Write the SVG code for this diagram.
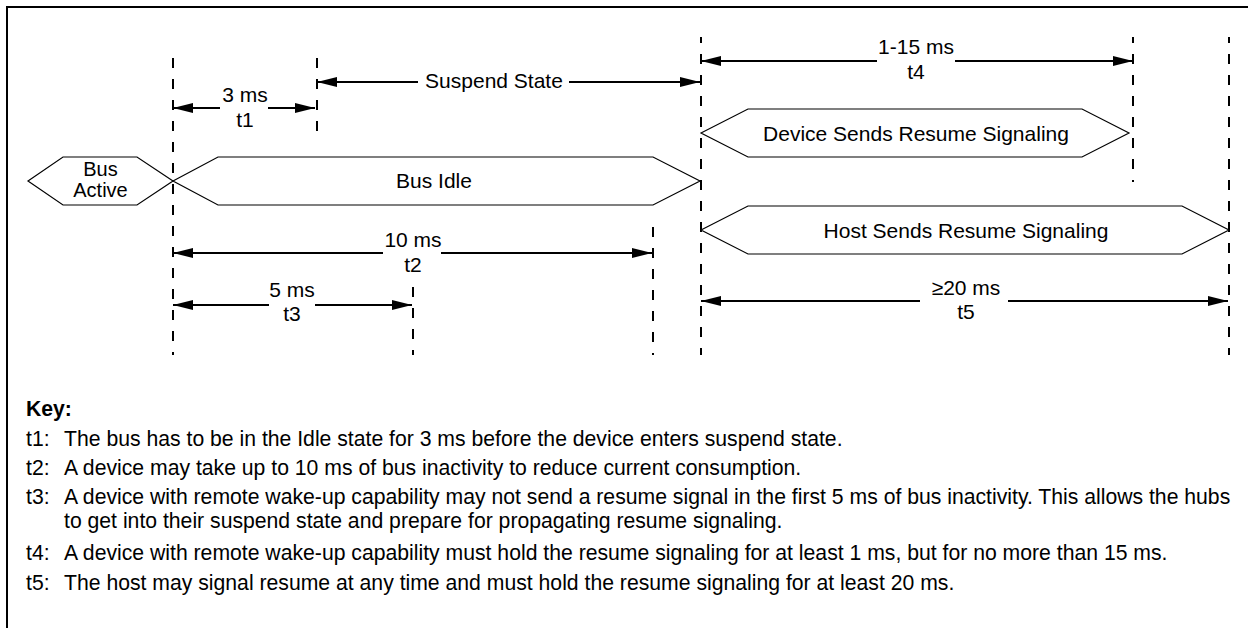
<svg xmlns="http://www.w3.org/2000/svg" width="1248" height="628" viewBox="0 0 1248 628">
  <style>
    text { font-family: "Liberation Sans", Arial, Helvetica, sans-serif; font-size: 21px; fill: #000; }
    .mid { text-anchor: middle; }
    .bold { font-weight: bold; }
    .key text { font-size: 21.2px; }
    .frame { fill: none; stroke: #000; stroke-width: 2; }
    .guide { fill: none; stroke: #000; stroke-width: 2; stroke-dasharray: 10 11; }
    .dim { fill: none; stroke: #000; stroke-width: 2; }
    .dim-r { marker-end: url(#head); }
    .state { fill: #fff; stroke: #000; stroke-width: 1.2; }
  </style>
  <defs>
    <marker id="head" viewBox="0 0 20 10" refX="20" refY="5" markerWidth="20" markerHeight="10" markerUnits="userSpaceOnUse" orient="auto">
      <path d="M0,0 L20,5 L0,10 Z" fill="#000"/>
    </marker>
  </defs>

  <rect width="1248" height="628" fill="#fff"/>
  <path class="frame" d="M7,628 V7 H1248"/>

  <!-- timing reference lines -->
  <g id="guides">
    <line class="guide" x1="173" y1="58" x2="173" y2="355"/>
    <line class="guide" x1="317" y1="58" x2="317" y2="134"/>
    <line class="guide" x1="413" y1="287" x2="413" y2="355"/>
    <line class="guide" x1="653" y1="227" x2="653" y2="355"/>
    <line class="guide" x1="701" y1="37" x2="701" y2="355" stroke-dashoffset="4"/>
    <line class="guide" x1="1133" y1="37" x2="1133" y2="182" stroke-dashoffset="4"/>
    <line class="guide" x1="1229" y1="37" x2="1229" y2="355" stroke-dashoffset="4"/>
  </g>

  <!-- bus states -->
  <g id="bus-active">
    <polygon class="state" points="28,181 63,157 137,157 173,181 137,205 63,205"/>
    <text class="mid" x="100.5" y="176" style="font-size:20px">Bus</text>
    <text class="mid" x="100.5" y="197" style="font-size:20px">Active</text>
  </g>
  <g id="bus-idle">
    <polygon class="state" points="173,181 218,157 653,157 700,181 653,205 218,205"/>
    <text class="mid" x="434" y="188">Bus Idle</text>
  </g>
  <g id="device-resume">
    <polygon class="state" points="701,133 748,109 1082,109 1129,133 1082,157 748,157"/>
    <text class="mid" x="916" y="141">Device Sends Resume Signaling</text>
  </g>
  <g id="host-resume">
    <polygon class="state" points="701,230 748,206 1182,206 1229,230 1182,254 748,254"/>
    <text class="mid" x="966" y="238">Host Sends Resume Signaling</text>
  </g>

  <!-- interval arrows: each span is two segments broken around its label -->
  <g id="connectors">
    <g id="t1">
      <line class="dim dim-r" x1="220" y1="108" x2="173" y2="108"/>
      <line class="dim dim-r" x1="268" y1="108" x2="315" y2="108"/>
      <text class="mid" x="245" y="102">3 ms</text>
      <text class="mid" x="245" y="127">t1</text>
    </g>
    <g id="suspend">
      <line class="dim dim-r" x1="418" y1="82" x2="317" y2="82"/>
      <line class="dim dim-r" x1="569" y1="82" x2="700" y2="82"/>
      <text class="mid" x="494" y="88">Suspend State</text>
    </g>
    <g id="t4">
      <line class="dim dim-r" x1="877" y1="61" x2="701" y2="61"/>
      <line class="dim dim-r" x1="955" y1="61" x2="1133" y2="61"/>
      <text class="mid" x="916" y="54">1-15 ms</text>
      <text class="mid" x="916" y="79">t4</text>
    </g>
    <g id="t2">
      <line class="dim dim-r" x1="383" y1="253" x2="173" y2="253"/>
      <line class="dim dim-r" x1="441" y1="253" x2="652" y2="253"/>
      <text class="mid" x="413" y="247">10 ms</text>
      <text class="mid" x="413" y="272">t2</text>
    </g>
    <g id="t3">
      <line class="dim dim-r" x1="269" y1="305" x2="173" y2="305"/>
      <line class="dim dim-r" x1="315" y1="305" x2="412" y2="305"/>
      <text class="mid" x="292" y="297">5 ms</text>
      <text class="mid" x="292" y="321">t3</text>
    </g>
    <g id="t5">
      <line class="dim dim-r" x1="920" y1="301" x2="701" y2="301"/>
      <line class="dim dim-r" x1="1008" y1="301" x2="1228" y2="301"/>
      <text class="mid" x="966" y="295">≥20 ms</text>
      <text class="mid" x="966" y="319">t5</text>
    </g>
  </g>

  <!-- legend -->
  <g id="key" class="key">
    <text class="bold" x="26" y="416">Key:</text>
    <text x="26" y="446">t1:</text>
    <text x="64" y="446">The bus has to be in the Idle state for 3 ms before the device enters suspend state.</text>
    <text x="26" y="475">t2:</text>
    <text x="64" y="475">A device may take up to 10 ms of bus inactivity to reduce current consumption.</text>
    <text x="26" y="504">t3:</text>
    <text x="64" y="504">A device with remote wake-up capability may not send a resume signal in the first 5 ms of bus inactivity. This allows the hubs</text>
    <text x="64" y="528">to get into their suspend state and prepare for propagating resume signaling.</text>
    <text x="26" y="560">t4:</text>
    <text x="64" y="560">A device with remote wake-up capability must hold the resume signaling for at least 1 ms, but for no more than 15 ms.</text>
    <text x="26" y="590">t5:</text>
    <text x="64" y="590">The host may signal resume at any time and must hold the resume signaling for at least 20 ms.</text>
  </g>
</svg>
